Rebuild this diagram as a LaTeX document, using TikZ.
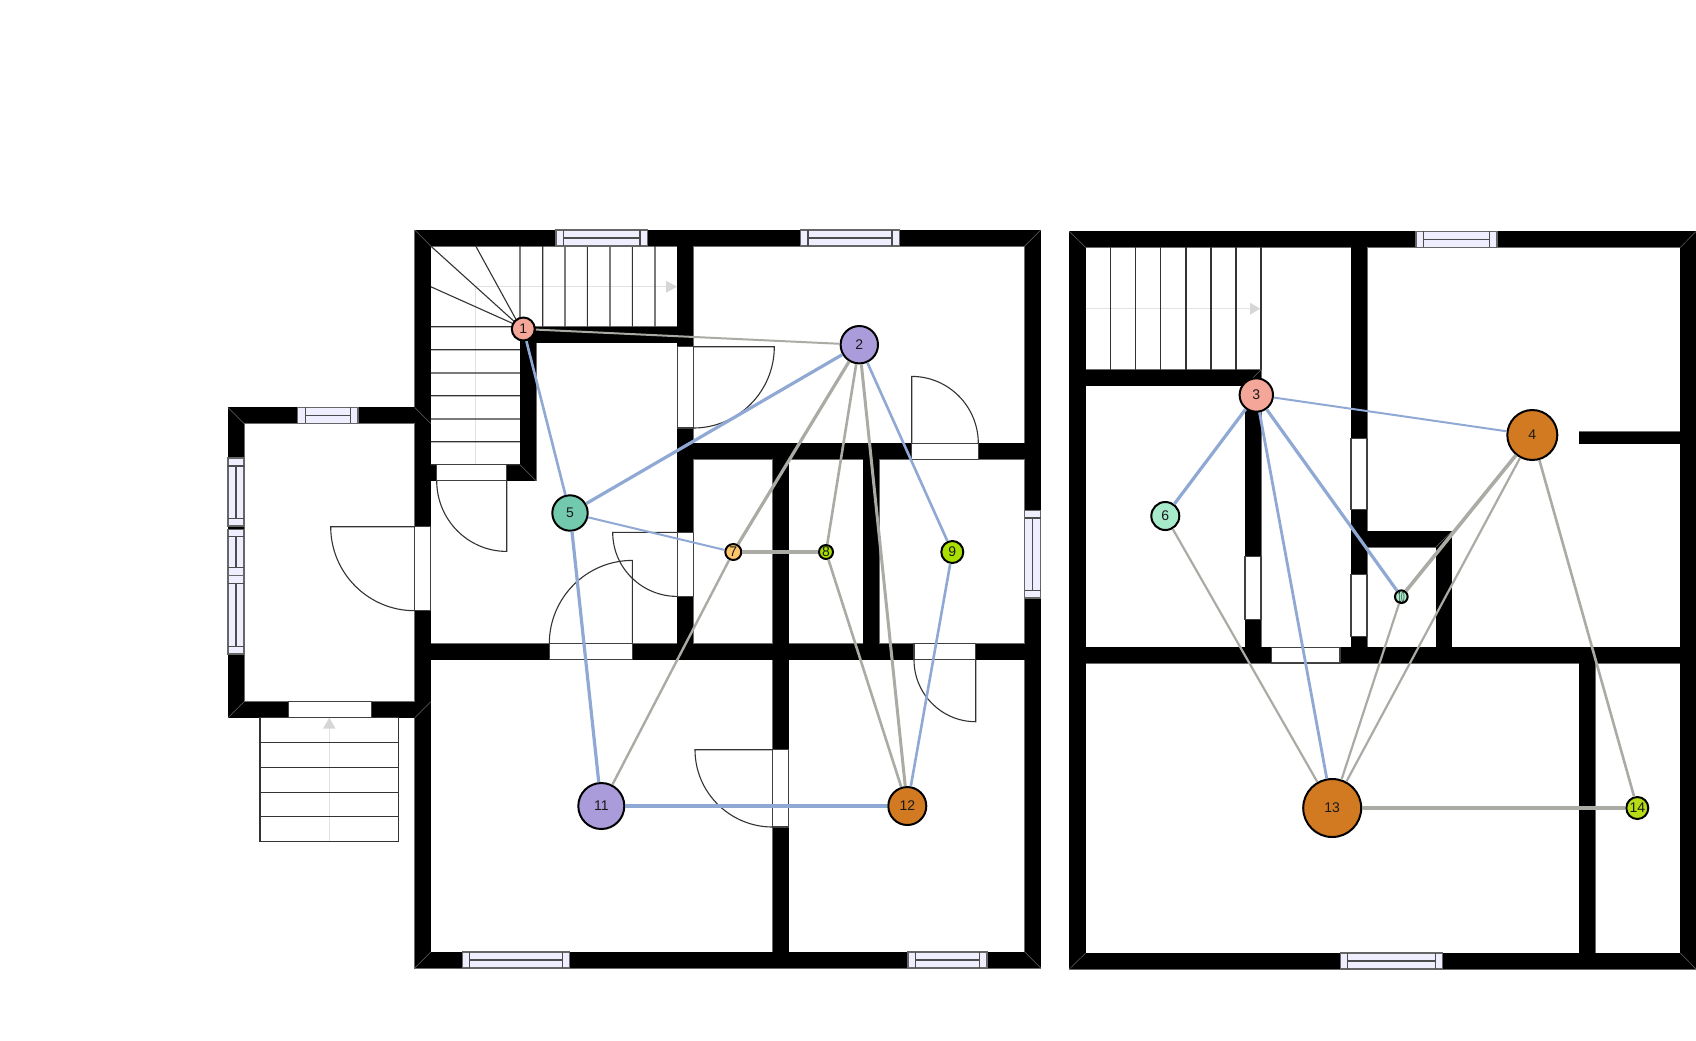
\documentclass[tikz,border=0pt]{standalone}
\usepackage{fontspec}
\setmainfont{Liberation Sans}
\usetikzlibrary{calc}
\definecolor{wallline}{HTML}{6A6A6A}
\definecolor{winfill}{HTML}{EEEEFF}
\definecolor{edgegray}{HTML}{ABABA6}
\definecolor{edgeblue}{HTML}{8FA8D4}
\definecolor{flowgray}{HTML}{E2E2E2}
\definecolor{headgray}{HTML}{D6D6D6}
\definecolor{salmon}{HTML}{F4A698}
\definecolor{violet}{HTML}{AA9CDB}
\definecolor{teal}{HTML}{72C9AE}
\definecolor{ochre}{HTML}{D17A22}
\definecolor{apricot}{HTML}{FFC56B}
\definecolor{lime}{HTML}{A9E000}
\definecolor{limeb}{HTML}{B5DC14}
\definecolor{mint}{HTML}{A8EBCB}
\tikzset{
  x=0.5pt,y=-0.5pt,
  thinline/.style={draw=black!80,line width=0.55pt},
  doorbox/.style={draw=black!75,fill=white,line width=0.55pt},
  winbox/.style={draw=black!60,fill=winfill,line width=0.6pt},
  winline/.style={draw=black!70,line width=0.55pt},
  mitre/.style={draw=black!60,line width=0.25pt},
  flow/.style={draw=flowgray,line width=0.7pt},
  flowhead/.style={fill=headgray,draw=none},
  netnode/.style={circle,draw=black,line width=1pt,inner sep=0pt,font=\fontsize{7}{8}\selectfont,text=black!90},
  ge/.style={draw=edgegray,line width=#1},
  be/.style={draw=edgeblue,line width=#1}
}
\def\walllist{414.7/229.3/1040.7/245.3,414.7/951.3/1040.7/967.3,414.7/229.3/430.7/967.3,1024.7/229.3/1040.7/967.3,
228/406.7/414.7/422.7,228/701/414.7/717,228/406.7/244/717,
520/326/677.3/342,520/326/536/480,430.7/464/536/480,677.3/245.3/693.3/643,693.3/442.7/1024.7/458.7,430.7/643/1024.7/659,772.7/458.7/788.7/951.3,863.3/458.7/879.3/643,
1069.3/230.7/1696/246.7,1069.3/952.3/1696/968.3,1069.3/230.7/1085.7/968.3,1680.3/230.7/1696/968.3,
1085.7/369/1261/385,1245/369/1261/662.3,1085.7/646.7/1680.3/662.3,1351/246.7/1367/662.3,1367/530.7/1451.7/546.3,1436/530.7/1451.7/662.3,1579/431/1680.3/443,1579.3/662.3/1595/952.3}
% horizontal window: x1,x2,la,lb,y1,y2
\newcommand\hwin[6]{%
  \draw[winbox] (#1,#5) rectangle (#2,#6);
  \draw[winline] (#3,#5) -- (#3,#6) (#4,#5) -- (#4,#6) (#3,{(#5+#6)/2}) -- (#4,{(#5+#6)/2});
}
% vertical window: y1,y2,la,lb,x1,x2
\newcommand\vwin[6]{%
  \draw[winbox] (#5,#1) rectangle (#6,#2);
  \draw[winline] (#5,#3) -- (#6,#3) (#5,#4) -- (#6,#4) ({(#5+#6)/2},#3) -- ({(#5+#6)/2},#4);
}
% door leaf and swing: hinge, leaf end, arc end
\newcommand\swing[3]{%
  \draw[thinline] (#1) -- (#2) .. controls ($(#2)+0.5523*(#3)-0.5523*(#1)$) and ($(#3)+0.5523*(#2)-0.5523*(#1)$) .. (#3);
}
\begin{document}
\begin{tikzpicture}
\useasboundingbox[fill=white] (0,-0.7) rectangle (1696,1039.3);
% walls
\foreach \a/\b/\c/\d in \walllist {\draw[draw=wallline,fill=black,line width=0.5pt] (\a,\b) rectangle (\c,\d);}
\foreach \a/\b/\c/\d in \walllist {\fill[black] (\a,\b) rectangle (\c,\d);}
% wall corners
\draw[mitre] (414.7,229.3)--(430.7,245.3) (1040.7,229.3)--(1024.7,245.3) (414.7,967.3)--(430.7,951.3) (1040.7,967.3)--(1024.7,951.3)
 (228,406.7)--(244,422.7) (228,717)--(244,701) (414.7,406.7)--(430.7,422.7) (414.7,717)--(430.7,701) (520,464)--(536,480)
 (1069.3,230.7)--(1085.7,246.7) (1696,230.7)--(1680.3,246.7) (1069.3,968.3)--(1085.7,952.3) (1696,968.3)--(1680.3,952.3)
 (1245,385)--(1261,369) (1436,546.3)--(1451.7,530.7);
% stairs, ground floor
\draw[flow] (475.7,464) -- (475.7,286) -- (667,286);
\fill[flowhead] (666,280) -- (677,286) -- (666,292) -- cycle;
\draw[thinline] (430.7,245.3)--(520,326) (475.7,245.3)--(520,326) (430.7,286)--(520,326)
 (430.7,326)--(520,326) (430.7,349)--(520,349) (430.7,372.3)--(520,372.3) (430.7,395)--(520,395) (430.7,418.3)--(520,418.3) (430.7,441)--(520,441) (430.7,464)--(520,464)
 (520,245.3)--(520,326) (542.7,245.3)--(542.7,326) (565,245.3)--(565,326) (587.3,245.3)--(587.3,326) (610,245.3)--(610,326) (632.3,245.3)--(632.3,326) (655,245.3)--(655,326);
% entrance stairs
\draw[flow] (329.3,841) -- (329.3,727);
\fill[flowhead] (323,728) -- (329.3,717) -- (335.6,728) -- cycle;
\draw[thinline] (260,717) rectangle (398.3,841) (260,741.7)--(398.3,741.7) (260,766.7)--(398.3,766.7) (260,791.7)--(398.3,791.7) (260,816)--(398.3,816);
% stairs, upper floor
\draw[flow] (1085.7,308) -- (1251,308);
\fill[flowhead] (1250,302) -- (1260,308) -- (1250,314) -- cycle;
\draw[thinline] (1110.7,246.7)--(1110.7,369) (1135.7,246.7)--(1135.7,369) (1160.7,246.7)--(1160.7,369) (1186,246.7)--(1186,369) (1211,246.7)--(1211,369) (1236,246.7)--(1236,369) (1261,246.7)--(1261,369);
% windows
\hwin{556}{647.3}{563.3}{640}{229.3}{245.3}
\hwin{800.7}{899.3}{808}{892}{229.3}{245.3}
\hwin{462.3}{569.3}{469.7}{562.3}{951.3}{967.3}
\hwin{908}{987}{915.7}{979.7}{951.3}{967.3}
\hwin{297.7}{358}{305.3}{350.7}{406.7}{422.7}
\vwin{510}{597.3}{517.3}{590}{1024.7}{1040.7}
\vwin{457.3}{525.3}{465.3}{517.7}{228}{244}
\vwin{528.7}{575}{535.7}{567}{228}{244}
\vwin{575}{653.3}{582.7}{646}{228}{244}
\hwin{1416}{1497}{1423.3}{1489.7}{230.7}{246.7}
\hwin{1340.3}{1442.5}{1347.6}{1435.7}{952.3}{968.3}
% doors
\draw[doorbox] (414.7,526) rectangle (430.7,610);
\swing{414.7,526}{330.7,526}{414.7,610}
\draw[doorbox] (288.3,701) rectangle (371.7,717);
\draw[doorbox] (436.7,464) rectangle (506.7,480);
\swing{506.7,480}{506.7,550.7}{436.7,480}
\draw[doorbox] (677.3,346) rectangle (693.3,427.3);
\swing{693.3,346}{774.3,346}{693.3,427.3}
\draw[doorbox] (911.7,442.7) rectangle (978.3,458.7);
\swing{911.7,442.7}{911.7,375.7}{978.3,442.7}
\draw[doorbox] (677.3,531.7) rectangle (693.3,595.7);
\swing{677.3,531.7}{612.7,531.7}{677.3,595.7}
\draw[doorbox] (549.3,643) rectangle (632.3,659);
\swing{632.3,643}{632.3,559.7}{549.3,643}
\draw[doorbox] (914,643) rectangle (975.7,659);
\swing{975.7,659}{975.7,721}{914,659}
\draw[doorbox] (772.7,749) rectangle (788.7,826.3);
\swing{772.7,749}{695,749}{772.7,826.3}
\draw[doorbox] (1245,556) rectangle (1261,618.7);
\draw[doorbox] (1271.7,646.7) rectangle (1340,662.3);
\draw[doorbox] (1351,437.7) rectangle (1367,508.7);
\draw[doorbox] (1351,573.7) rectangle (1367,636);
% network nodes
\node[netnode,fill=salmon,minimum size=11.5pt] (n1) at (523.3,328.3) {1};
\node[netnode,fill=violet,minimum size=18.7pt] (n2) at (859.3,344) {2};
\node[netnode,fill=salmon,minimum size=16.7pt] (n3) at (1256.3,394.3) {3};
\node[netnode,fill=ochre,minimum size=25pt] (n4) at (1532.3,434.3) {4};
\node[netnode,fill=teal,minimum size=17.7pt] (n5) at (570,512.3) {5};
\node[netnode,fill=mint,minimum size=14pt] (n6) at (1165.3,515.3) {6};
\node[netnode,fill=apricot,minimum size=8pt] (n7) at (733.3,551.3) {7};
\node[netnode,fill=lime,minimum size=7pt] (n8) at (826,551.3) {8};
\node[netnode,fill=lime,minimum size=11pt] (n9) at (952.3,551.3) {9};
\node[netnode,fill=mint,minimum size=5.3pt] (n10) at (1401.3,596) {\resizebox{3.2pt}{5.4pt}{10}};
\node[netnode,fill=violet,minimum size=23pt] (n11) at (601.3,805.3) {11};
\node[netnode,fill=ochre,minimum size=19pt] (n12) at (907.3,805.3) {12};
\node[netnode,fill=ochre,minimum size=29pt] (n13) at (1332.2,807.3) {13};
\node[netnode,fill=limeb,minimum size=11pt] (n14) at (1637.3,807.3) {14};
% connectors
\draw[ge=1pt] (n1) -- (n2);
\draw[ge=1.6pt] (n2) -- (n7);
\draw[ge=1.2pt] (n7) -- (n11);
\draw[ge=1.6pt] (n7) -- (n8);
\draw[ge=1.3pt] (n2) -- (n8);
\draw[ge=1.3pt] (n8) -- (n12);
\draw[ge=1.5pt] (n2) -- (n12);
\draw[ge=1.1pt] (n6) -- (n13);
\draw[ge=1.1pt] (n10) -- (n13);
\draw[ge=1.1pt] (n4) -- (n13);
\draw[ge=1.8pt] (n4) -- (n10);
\draw[ge=1.3pt] (n4) -- (n14);
\draw[ge=1.6pt] (n13) -- (n14);
\draw[be=1.3pt] (n1) -- (n5);
\draw[be=1.6pt] (n5) -- (n2);
\draw[be=1pt] (n5) -- (n7);
\draw[be=1.6pt] (n5) -- (n11);
\draw[be=1.3pt] (n2) -- (n9);
\draw[be=1.3pt] (n9) -- (n12);
\draw[be=1.6pt] (n11) -- (n12);
\draw[be=1pt] (n3) -- (n4);
\draw[be=1.6pt] (n3) -- (n6);
\draw[be=1.4pt] (n3) -- (n13);
\draw[be=1.6pt] (n3) -- (n10);
\end{tikzpicture}
\end{document}
